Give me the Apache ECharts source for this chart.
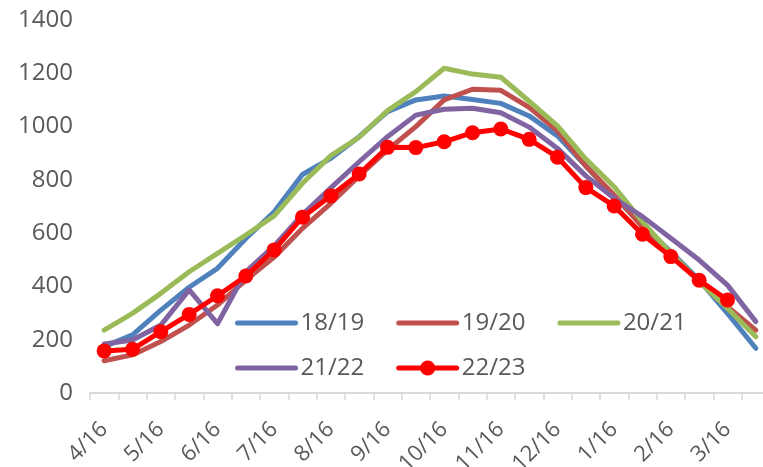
<!DOCTYPE html>
<html>
<head>
<meta charset="utf-8">
<script src="https://cdn.jsdelivr.net/npm/echarts@6/dist/echarts.min.js"></script>
<style>
    html, body { margin: 0; padding: 0; background: #fff; }
    #chart { width: 763px; height: 467px; }
</style>
</head>
<body>
<div id="chart"></div>
<script>
// half-month points, 4/16 .. 4/1
const categories = [
    "4/16", "5/1", "5/16", "6/1", "6/16", "7/1", "7/16", "8/1",
    "8/16", "9/1", "9/16", "10/1", "10/16", "11/1", "11/16", "12/1",
    "12/16", "1/1", "1/16", "2/1", "2/16", "3/1", "3/16", "4/1",
];

const s1819 = [174, 218, 311, 397, 468, 580, 680, 820, 881, 962, 1056, 1100,
    1115, 1102, 1087, 1040, 965, 852, 737, 631, 530, 424, 299, 168];
const s1920 = [121, 143, 193, 255, 330, 424, 510, 618, 712, 815, 912, 1000,
    1100, 1140, 1136, 1072, 984, 852, 743, 624, 518, 418, 324, 236];
const s2021 = [236, 299, 374, 455, 524, 593, 665, 787, 891, 960, 1060, 1131,
    1219, 1197, 1185, 1095, 1003, 878, 774, 643, 524, 418, 318, 211];
const s2122 = [184, 199, 255, 387, 260, 455, 552, 670, 770, 868, 962, 1043,
    1065, 1069, 1052, 998, 918, 815, 731, 662, 581, 499, 405, 268];
const s2223 = [158, 164, 230, 295, 365, 439, 537, 660, 740, 822, 922, 921,
    943, 977, 991, 952, 885, 771, 702, 596, 512, 423, 349, null];

const seriesNames = ["18/19", "19/20", "20/21", "21/22", "22/23"];
const seriesData = [s1819, s1920, s2021, s2122, s2223];
const colors = ["#4F81BD", "#C0504D", "#9BBB59", "#8064A2", "#FF0000"];

const FONT = "'Open Sans', 'Noto Sans', sans-serif";
const TEXT = "#595959";

const lineFn = (name, data, color, marker) => {
    return {
        name: name,
        type: "line",
        data: data,
        color: color,
        symbol: marker ? "circle" : "none",
        symbolSize: marker ? 15 : 0,
        showSymbol: marker,
        connectNulls: false,
        lineStyle: { width: 5, color: color, cap: "round", join: "round" },
        itemStyle: { color: color },
        animation: false,
    };
};

// legend entry: plain line unless the series has markers
const legendItem = (name) => {
    if (name === "22/23") return { name: name };
    return { name: name, itemStyle: { opacity: 0 } };
};

const legendBase = {
    left: 230,
    itemWidth: 58,
    itemHeight: 19,
    itemGap: 32,
    lineStyle: { width: 5, cap: "round" },
    textStyle: { fontSize: 24, color: TEXT, fontFamily: FONT },
};

let option = {
    backgroundColor: "#fff",
    animation: false,
    grid: { left: 90, top: 20, width: 680, bottom: 74, outerBoundsMode: "none", containLabel: false },
    legend: [
        Object.assign({}, legendBase, { top: 306, data: seriesNames.slice(0, 3).map(legendItem) }),
        Object.assign({}, legendBase, { top: 351, data: seriesNames.slice(3).map(legendItem) }),
    ],
    xAxis: {
        type: "category",
        data: categories,
        boundaryGap: true,
        axisLine: { lineStyle: { color: "#d9d9d9", width: 2 } },
        axisTick: { show: true, interval: 0, length: 7, lineStyle: { color: "#d9d9d9", width: 1.5 } },
        axisLabel: {
            interval: 1,
            rotate: 45,
            margin: 33,
            fontSize: 22,
            color: TEXT,
            fontFamily: FONT,
        },
    },
    yAxis: {
        type: "value",
        min: 0,
        max: 1400,
        interval: 200,
        splitLine: { show: false },
        axisLine: { show: false },
        axisTick: { show: false },
        axisLabel: {
            fontSize: 24,
            color: TEXT,
            fontFamily: FONT,
            margin: 17,
            formatter: (v) => String(v),
        },
    },
    series: [],
};

seriesNames.forEach((name, index) => {
    option.series.push(lineFn(name, seriesData[index], colors[index], index === 4));
});

const myChart = echarts.init(document.getElementById("chart"), null, { renderer: "canvas" });
myChart.setOption(option);
</script>
</body>
</html>
